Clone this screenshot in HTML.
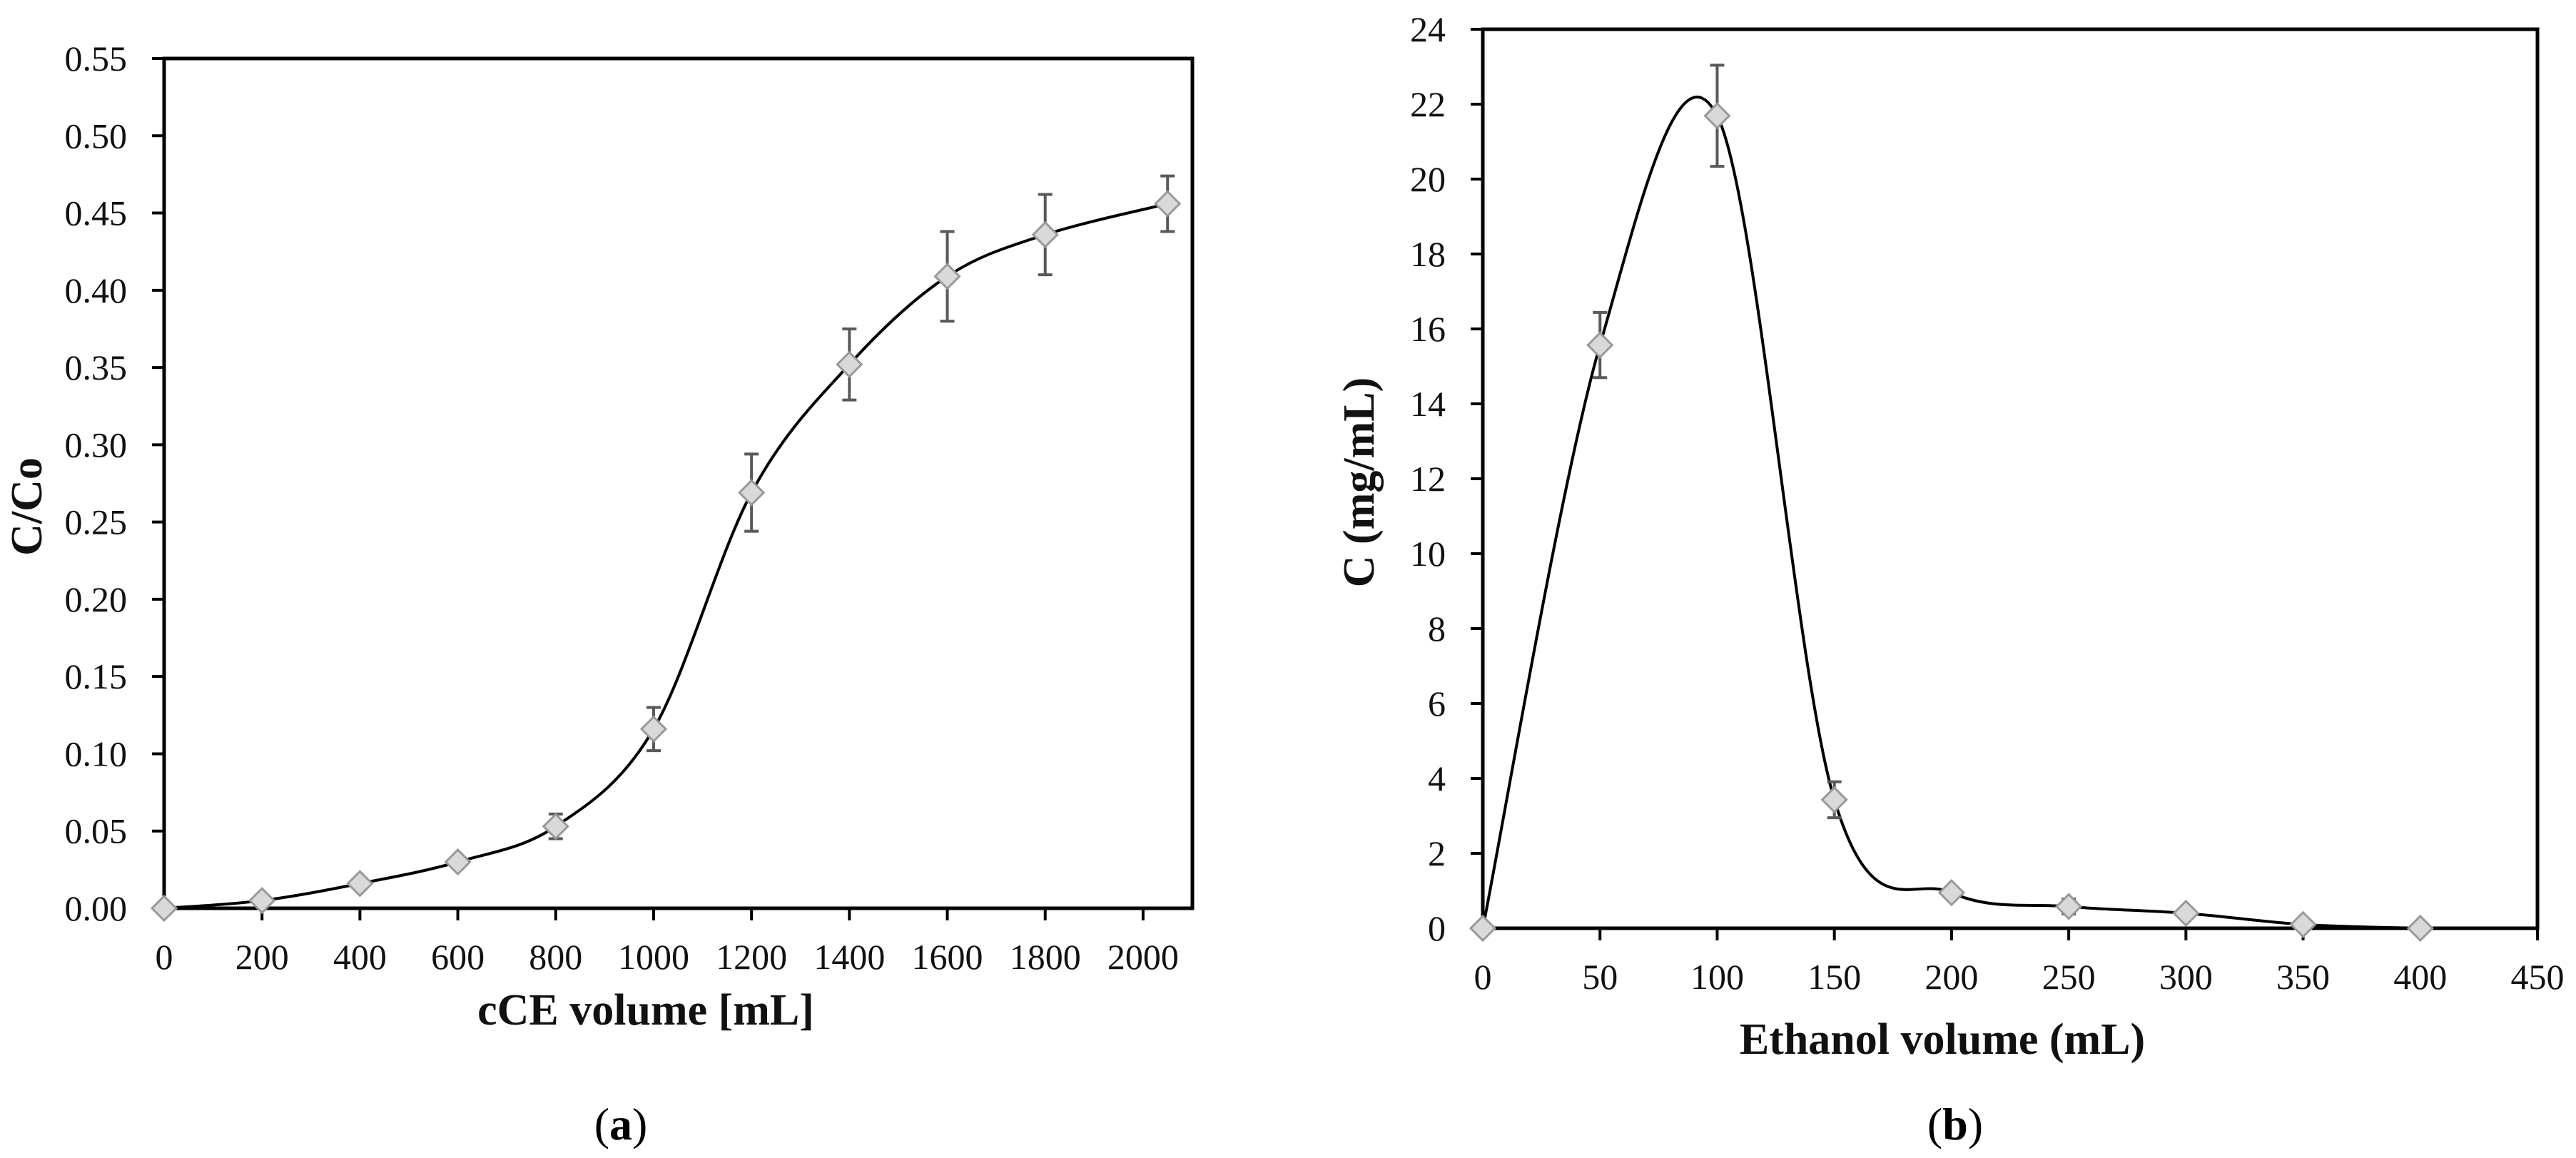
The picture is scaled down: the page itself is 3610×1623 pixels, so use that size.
<!DOCTYPE html>
<html><head><meta charset="utf-8"><style>
html,body{margin:0;padding:0;background:#fff;}
svg{display:block;font-family:"Liberation Serif",serif;}
</style></head><body>
<svg id="fig" width="3610" height="1623" viewBox="0 0 3610 1623" xmlns="http://www.w3.org/2000/svg">
<rect width="3610" height="1623" fill="#fff"/>
<g id="chartA"></g>
<g id="chartB"></g>
<text x="870" y="1597" font-size="64" text-anchor="middle">(<tspan font-weight="bold">a</tspan>)</text>
<text x="2740" y="1597" font-size="64" text-anchor="middle">(<tspan font-weight="bold">b</tspan>)</text>
</svg>
<script>
// Chart A data
const aX = [0,200,400,600,800,1000,1200,1400,1600,1800,2050];
const aY = [0,0.005,0.016,0.030,0.053,0.116,0.269,0.352,0.409,0.436,0.456];
const aErr = [0,0,0,0,0.008,0.014,0.025,0.023,0.029,0.026,0.018];
const aXTicks = [0,200,400,600,800,1000,1200,1400,1600,1800,2000];
const aYTicks = ["0.00","0.05","0.10","0.15","0.20","0.25","0.30","0.35","0.40","0.45","0.50","0.55"];
// Chart B data
const bX = [0,50,100,150,200,250,300,350,400];
const bY = [0,15.57,21.69,3.43,0.95,0.58,0.40,0.10,0];
const bErr = [0,0.87,1.35,0.48,0,0.2,0,0,0];
const bXTicks = [0,50,100,150,200,250,300,350,400,450];
const bYTicks = ["0","2","4","6","8","10","12","14","16","18","20","22","24"];

const NS="http://www.w3.org/2000/svg";
function mk(tag,attrs,parent){const e=document.createElementNS(NS,tag);for(const k in attrs)e.setAttribute(k,attrs[k]);parent.appendChild(e);return e;}

function smoothPath(pts){
  let d="M"+pts[0][0]+","+pts[0][1];
  for(let i=0;i<pts.length-1;i++){
    const p0=pts[i-1]||pts[i],p1=pts[i],p2=pts[i+1],p3=pts[i+2]||p2;
    const t=1/6;
    const c1=[p1[0]+(p2[0]-p0[0])*t,p1[1]+(p2[1]-p0[1])*t];
    const c2=[p2[0]-(p3[0]-p1[0])*t,p2[1]-(p3[1]-p1[1])*t];
    d+=" C"+c1[0]+","+c1[1]+" "+c2[0]+","+c2[1]+" "+p2[0]+","+p2[1];
  }
  return d;
}

function drawChart(g,cfg){
  const sx=v=>cfg.x0+(v-cfg.xmin)/(cfg.xmax-cfg.xmin)*(cfg.x1-cfg.x0);
  const sy=v=>cfg.y0-(v-cfg.ymin)/(cfg.ymax-cfg.ymin)*(cfg.y0-cfg.y1);
  // ticks y
  cfg.yTicks.forEach(t=>{
    const y=sy(parseFloat(t));
    const tk=mk('line',{x1:cfg.x0-17,x2:cfg.x0,y1:y,y2:y,stroke:'#000','stroke-width':4},g);
    
    
    const tl=mk('text',{x:cfg.x0-52,y:y+17,'font-size':50,'text-anchor':'end',fill:'#111'},g);
    tl.textContent=t;
    
    
  });
  cfg.xTicks.forEach(t=>{
    const x=sx(t);
    const tk=mk('line',{x1:x,x2:x,y1:cfg.y0,y2:cfg.y0+17,stroke:'#000','stroke-width':4},g);
    
    
    const tl=mk('text',{x:x,y:cfg.y0+85,'font-size':50,'text-anchor':'middle',fill:'#111'},g);
    tl.textContent=t;
    
    
  });
  const box=mk('rect',{x:cfg.x0,y:cfg.y1,width:cfg.x1-cfg.x0,height:cfg.y0-cfg.y1,fill:'none',stroke:'#000','stroke-width':5},g);
  
  
  const pts=cfg.xs.map((v,i)=>[sx(v),sy(cfg.ys[i])]);
  const line=mk('path',{d:smoothPath(pts),fill:'none',stroke:'#000','stroke-width':4},g);
  
  
  cfg.xs.forEach((v,i)=>{
    if(cfg.err[i]>0){
      const x=sx(v),ya=sy(cfg.ys[i]+cfg.err[i]),yb=sy(cfg.ys[i]-cfg.err[i]);
      const eb=mk('path',{d:`M${x},${ya}V${yb}M${x-10},${ya}H${x+10}M${x-10},${yb}H${x+10}`,stroke:'#595959','stroke-width':4,fill:'none'},g);
      
      
    }
  });
  pts.forEach(p=>{
    const s=17;
    const m=mk('path',{d:`M${p[0]},${p[1]-s}L${p[0]+s},${p[1]}L${p[0]},${p[1]+s}L${p[0]-s},${p[1]}Z`,fill:'#d9d9d9',stroke:'#999','stroke-width':3},g);
    
    
  });
  const xt=mk('text',{x:cfg.xtx,y:cfg.xty,'font-size':62,'font-weight':'bold','text-anchor':'middle',fill:'#111'},g);
  xt.textContent=cfg.xTitle;
  
  
  const yt=mk('text',{x:0,y:0,'font-size':62,'font-weight':'bold','text-anchor':'middle',fill:'#111',transform:`translate(${cfg.ytx},${cfg.yty}) rotate(-90)`},g);
  yt.textContent=cfg.yTitle;
  
  
}

drawChart(document.getElementById('chartA'),{x0:230,x1:1671,xmin:0,xmax:2100.7,y0:1273,y1:82,ymin:0,ymax:0.55,
  xs:aX,ys:aY,err:aErr,xTicks:aXTicks,yTicks:aYTicks,xTitle:'cCE volume [mL]',yTitle:'C/Co',xtx:905,xty:1436,ytx:58,yty:710});
drawChart(document.getElementById('chartB'),{x0:2078,x1:3556,xmin:0,xmax:450,y0:1301,y1:41,ymin:0,ymax:24,
  xs:bX,ys:bY,err:bErr,xTicks:bXTicks,yTicks:bYTicks,xTitle:'Ethanol volume (mL)',yTitle:'C (mg/mL)',xtx:2722,xty:1477,ytx:1925,yty:676});
</script>
</body></html>
